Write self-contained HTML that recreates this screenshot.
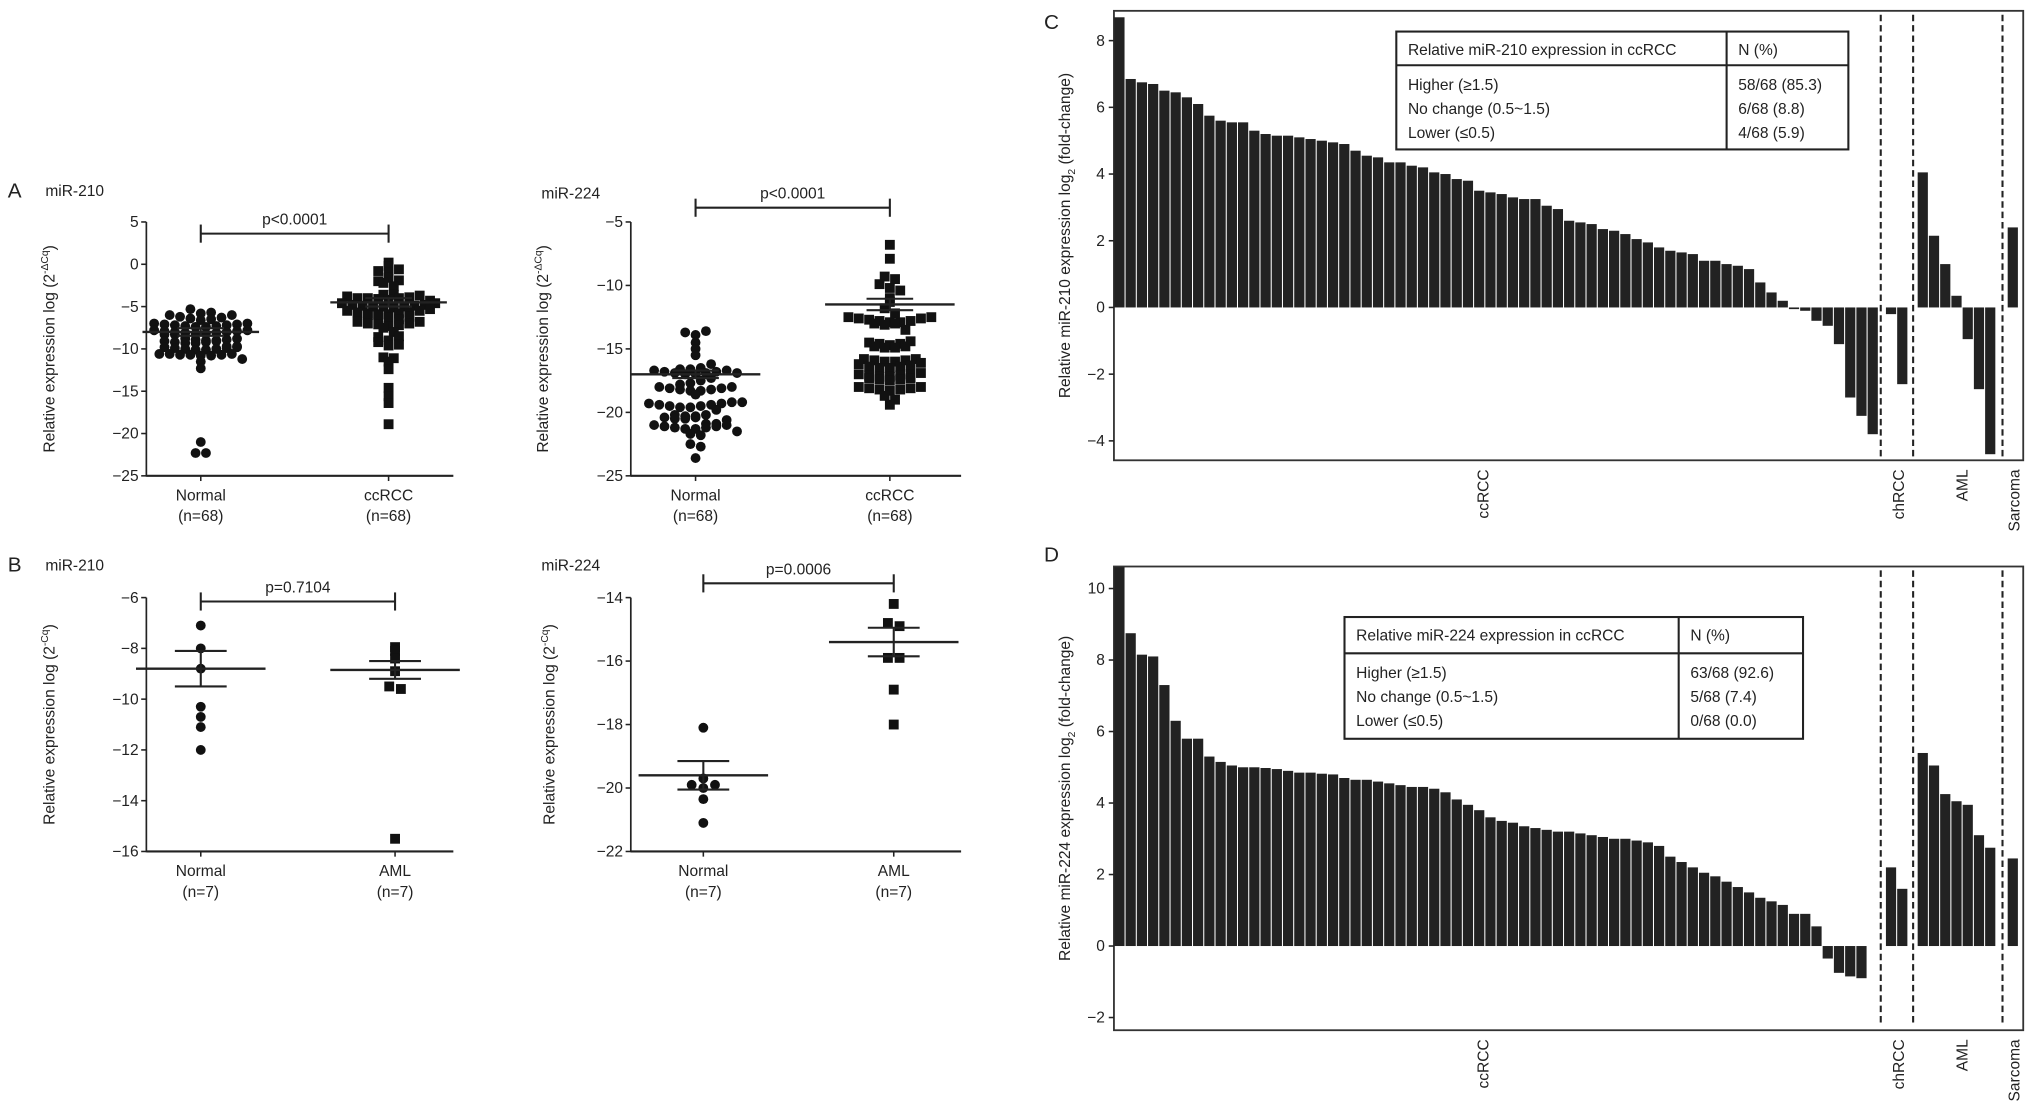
<!DOCTYPE html>
<html><head><meta charset="utf-8"><style>
html,body{margin:0;padding:0;background:#fff}
svg{display:block}
text{font-family:"Liberation Sans",Arial,sans-serif;fill:#222}
</style></head><body>
<svg id="fig" width="2031" height="1111" viewBox="0 0 1568 857" xmlns="http://www.w3.org/2000/svg">
<rect width="1568" height="857" fill="#fff"/>
<g id="root"></g>
</svg>
<script>
// ---------- DATA ----------
const aLeftNormal=[-5.3,-5.8,-6.0,-6.2,-6.4,-6.6,-6.5,-6.3,-6.0,-5.7,
-7.0,-7.1,-7.2,-7.3,-7.4,-7.4,-7.3,-7.2,-7.1,-7.0,
-7.8,-7.9,-8.0,-8.1,-8.2,-8.3,-8.3,-8.2,-8.1,-8.0,-7.9,-7.8,
-8.8,-8.9,-9.0,-9.1,-9.2,-9.3,-9.3,-9.2,-9.1,-9.0,-8.9,-8.8,
-9.7,-9.8,-9.9,-10.0,-10.1,-10.1,-10.0,-9.9,-9.8,-9.7,
-10.6,-10.6,-10.7,-10.7,-10.8,-10.8,-10.7,-10.6,
-11.5,-11.2,-12.3,-21.0,-22.3,-22.3];
const aLeftCcrcc=[-0.2,-0.8,0.2,-1.0,-0.6,-2.0,-2.2,-2.6,-1.6,-1.9,
-3.6,-3.8,-4.0,-4.0,-4.1,-4.2,-4.0,-3.9,-3.7,-3.6,
-4.6,-4.8,-4.9,-5.0,-5.0,-5.1,-5.0,-4.9,-4.8,-4.6,
-5.5,-5.7,-5.8,-5.9,-6.0,-6.0,-5.9,-5.8,-5.7,-5.5,-6.3,-6.5,
-6.8,-7.0,-7.1,-7.3,-7.2,-7.0,-6.8,-7.5,
-8.0,-8.6,-9.2,-9.6,-9.5,-9.0,-8.5,
-11.0,-11.5,-11.1,-12.4,-14.6,-15.6,-16.4,-18.9,-4.3,-5.3,-6.2];
const aRightNormal=[-13.7,-13.9,-13.6,-14.5,-15.0,-15.5,
-16.6,-16.7,-16.8,-16.9,-17.0,-17.0,-16.9,-16.8,-16.7,-16.6,-16.5,-16.9,
-18.0,-18.1,-18.2,-18.3,-18.3,-18.2,-18.1,-18.0,-17.8,-17.7,
-19.3,-19.4,-19.5,-19.6,-19.6,-19.5,-19.4,-19.3,-19.2,-19.2,
-20.2,-20.3,-20.4,-20.5,-20.5,-20.4,-20.3,-20.2,
-20.9,-21.0,-21.1,-21.2,-21.3,-21.3,-21.2,-21.1,-21.0,-20.9,
-21.7,-21.8,-22.5,-22.7,-23.6,-17.5,-16.2,-17.3,-18.6,-19.8,-20.6,-21.5];
const aRightCcrcc=[-6.8,-7.9,-9.3,-9.5,-9.9,-10.2,-10.4,-11.0,-11.3,-11.8,
-12.5,-12.6,-12.7,-12.8,-12.9,-13.0,-13.1,-13.0,-12.9,-12.8,-12.6,-12.5,
-14.5,-14.6,-14.7,-14.8,-14.9,-14.9,-14.8,-14.6,-14.4,
-15.8,-15.9,-16.0,-16.2,-16.4,-16.5,-16.5,-16.4,-16.3,-16.1,-16.0,-15.9,-15.8,
-17.0,-17.1,-17.2,-17.3,-17.4,-17.5,-17.4,-17.3,-17.2,-17.1,-17.0,-16.9,
-18.0,-18.1,-18.2,-18.3,-18.2,-18.1,-18.0,-18.7,-19.0,-19.4,-12.2,-13.5];
const bLeftNormal=[-7.1,-8.0,-8.8,-10.3,-10.7,-11.1,-12.0];
const bLeftAml=[-7.95,-8.1,-8.4,-8.9,-9.5,-9.6,-15.5];
const bRightNormal=[-18.1,-19.7,-19.9,-20.0,-19.9,-20.35,-21.1];
const bRightAml=[-14.2,-14.8,-14.9,-15.9,-15.9,-16.9,-18.0];
// reported mean and SEM per group
const aLeftMeans=[-8.0,-4.5], aLeftSems=[0.45,0.5];
const aRightMeans=[-17.0,-11.5], aRightSems=[0.3,0.45];
const bLeftMeans=[-8.8,-8.85], bLeftSems=[0.7,0.35];
const bRightMeans=[-19.6,-15.4], bRightSems=[0.45,0.45];

const cCcrcc=[8.7,6.85,6.75,6.7,6.5,6.45,6.3,6.1,5.75,5.6,5.55,5.55,5.3,5.2,5.15,5.15,5.1,5.05,5.0,
4.95,4.9,4.7,4.55,4.5,4.35,4.35,4.25,4.2,4.05,4.0,3.85,3.8,3.5,3.45,3.4,3.3,3.25,3.25,3.05,
2.95,2.6,2.55,2.5,2.35,2.3,2.2,2.05,1.95,1.8,1.7,1.65,1.6,1.4,1.4,1.3,1.25,1.15,0.75,0.45,
0.2,-0.05,-0.1,-0.4,-0.55,-1.1,-2.7,-3.25,-3.8];
const cChrcc=[-0.2,-2.3];
const cAml=[4.05,2.15,1.3,0.35,-0.95,-2.45,-4.4];
const cSarcoma=[2.4];
const dCcrcc=[10.6,8.75,8.15,8.1,7.3,6.3,5.8,5.8,5.3,5.15,5.05,5.0,5.0,4.98,4.95,4.9,4.85,4.85,4.82,
4.8,4.7,4.65,4.65,4.6,4.55,4.5,4.45,4.45,4.4,4.3,4.1,3.95,3.8,3.6,3.5,3.45,3.35,3.3,
3.25,3.2,3.2,3.15,3.1,3.05,3.0,3.0,2.95,2.9,2.8,2.5,2.35,2.2,2.05,1.95,1.8,1.65,1.5,1.35,
1.25,1.15,0.9,0.9,0.55,-0.35,-0.75,-0.85,-0.9];
const dChrcc=[2.2,1.6];
const dAml=[5.4,5.05,4.25,4.05,3.95,3.1,2.75];
const dSarcoma=[2.45];
const cTicks=[8,6,4,2,0,-2,-4];
const dTicks=[10,8,6,4,2,0,-2];

// ---------- HELPERS ----------
const NS='http://www.w3.org/2000/svg';
const root=document.getElementById('root');
function mk(tag,attrs,parent){const e=document.createElementNS(NS,tag);for(const k in attrs)e.setAttribute(k,attrs[k]);(parent||root).appendChild(e);return e;}
function txt(s,x,y,size,anchor,parent,rot){const t=mk('text',{x:x,y:y,'font-size':size,'text-anchor':anchor||'middle'},parent);if(rot)t.setAttribute('transform','rotate(-90 '+x+' '+y+')');t.textContent=s;return t;}
function line(x1,y1,x2,y2,w,parent,dash){const l=mk('line',{x1:x1,y1:y1,x2:x2,y2:y2,stroke:'#222','stroke-width':w||1.2},parent);if(dash)l.setAttribute('stroke-dasharray',dash);return l;}

function scatterPanel(o){
  const g=mk('g',{});
  
  
  const y=v=>o.y0+(o.vmax-v)/(o.vmax-o.vmin)*(o.y1-o.y0);
  line(o.ax,o.y0,o.ax,o.y1+0.6,1.3,g);
  line(o.ax,o.y1,o.ax2,o.y1,1.6,g);
  o.ticks.forEach(t=>{line(o.ax-4,y(t),o.ax,y(t),1.2,g);const tl=txt(String(t).replace('-','−'),o.ax-6,y(t)+4,12,'end',g);});
  o.cats.forEach((c,i)=>{line(o.cx[i],o.y1,o.cx[i],o.y1+4,1.2,g);const a=txt(c[0],o.cx[i],o.y1+19,12,'middle',g);txt(c[1],o.cx[i],o.y1+35,12,'middle',g);});
  const yt=mk('text',{x:o.ytx,y:(o.y0+o.y1)/2,'font-size':12,'text-anchor':'middle',transform:'rotate(-90 '+o.ytx+' '+((o.y0+o.y1)/2)+')'},g);
  
  yt.appendChild(document.createTextNode('Relative expression log (2'));
  const sp=mk('tspan',{'font-size':8,dy:-5},yt);sp.textContent=o.sup;
  const sp2=mk('tspan',{dy:5},yt);sp2.textContent=')';
  const ti=txt(o.title,o.tx,o.ty,12,'start',g);
  line(o.cx[0],o.by,o.cx[1],o.by,1.6,g);line(o.cx[0],o.by-7,o.cx[0],o.by+7,1.6,g);line(o.cx[1],o.by-7,o.cx[1],o.by+7,1.6,g);
  const pt=txt(o.p,(o.cx[0]+o.cx[1])/2,o.by-7,12,'middle',g);
  o.series.forEach((vals,si)=>{
    const cx=o.cx[si];
    const bins={};
    vals.forEach(v=>{const k=Math.round(y(v)/o.binpx);(bins[k]=bins[k]||[]).push(v);});
    Object.keys(bins).forEach(k=>{const arr=bins[k];const n=arr.length;
      arr.forEach((v,j)=>{const x=cx+(j-(n-1)/2)*o.dx;const yy=y(v);
        let m;
        if(si===0){m=mk('circle',{cx:x,cy:yy,r:o.r,fill:'#111'},g);}
        else{m=mk('rect',{x:x-o.r,y:yy-o.r,width:o.r*2,height:o.r*2,fill:'#111'},g);}
        
      });});
    const mean=o.means[si],sem=o.sems[si];
    const ml=line(cx-o.mw,y(mean),cx+o.mw,y(mean),1.8,g);
    line(cx-o.sw,y(mean+sem),cx+o.sw,y(mean+sem),1.6,g);line(cx-o.sw,y(mean-sem),cx+o.sw,y(mean-sem),1.6,g);
    line(cx,y(mean+sem),cx,y(mean-sem),1.6,g);
  });
}

scatterPanel({name:'panel-a-mir210',ax:113,ax2:350,y0:171,y1:367,vmax:5,vmin:-25,ticks:[5,0,-5,-10,-15,-20,-25],cx:[155,300],cats:[['Normal','(n=68)'],['ccRCC','(n=68)']],ytx:42,sup:'-ΔCq',title:'miR-210',tx:35,ty:151,by:180,p:'p<0.0001',series:[aLeftNormal,aLeftCcrcc],means:aLeftMeans,sems:aLeftSems,binpx:5,dx:8,r:3.8,mw:45,sw:18});
scatterPanel({name:'panel-a-mir224',ax:487,ax2:742,y0:171,y1:367,vmax:-5,vmin:-25,ticks:[-5,-10,-15,-20,-25],cx:[537,687],cats:[['Normal','(n=68)'],['ccRCC','(n=68)']],ytx:423,sup:'-ΔCq',title:'miR-224',tx:418,ty:153,by:160,p:'p<0.0001',series:[aRightNormal,aRightCcrcc],means:aRightMeans,sems:aRightSems,binpx:6,dx:8,r:3.8,mw:50,sw:18});
scatterPanel({name:'panel-b-mir210',ax:113,ax2:350,y0:461,y1:657,vmax:-6,vmin:-16,ticks:[-6,-8,-10,-12,-14,-16],cx:[155,305],cats:[['Normal','(n=7)'],['AML','(n=7)']],ytx:42,sup:'-Cq',title:'miR-210',tx:35,ty:440,by:464,p:'p=0.7104',series:[bLeftNormal,bLeftAml],means:bLeftMeans,sems:bLeftSems,binpx:7,dx:9,r:3.8,mw:50,sw:20});
scatterPanel({name:'panel-b-mir224',ax:487,ax2:742,y0:461,y1:657,vmax:-14,vmin:-22,ticks:[-14,-16,-18,-20,-22],cx:[543,690],cats:[['Normal','(n=7)'],['AML','(n=7)']],ytx:428,sup:'-Cq',title:'miR-224',tx:418,ty:440,by:450,p:'p=0.0006',series:[bRightNormal,bRightAml],means:bRightMeans,sems:bRightSems,binpx:7,dx:9,r:3.8,mw:50,sw:20});

txt('A',6,152,16,'start');
txt('B',6,441,16,'start');

function barPanel(o){
  const g=mk('g',{});
  
  
  const y=v=>o.yz-v*o.ppu;
  mk('rect',{x:o.x0,y:o.top,width:o.x1-o.x0,height:o.bot-o.top,fill:'none',stroke:'#333','stroke-width':1.4},g);
  o.ticks.forEach(t=>{line(o.x0-4,y(t),o.x0,y(t),1.2,g);const tl=txt(String(t).replace('-','−'),o.x0-7,y(t)+4,12,'end',g);});
  const slot=8.68;
  const groups=[[o.g[0],o.x0+0.3],[o.g[1],1456],[o.g[2],1480.5],[o.g[3],1550]];
  groups.forEach(([vals,start])=>{vals.forEach((v,i)=>{const x=start+i*slot;const b=mk('rect',{x:x,y:Math.min(y(v),o.yz),width:slot-0.8,height:Math.abs(y(v)-o.yz),fill:'#222'},g);
    });});
  [1452,1477,1546].forEach(x=>{const d=line(x,o.top+3,x,o.bot-3,1.6,g,'5,3');});
  [['ccRCC',1149],['chRCC',1470],['AML',1519],['Sarcoma',1559]].forEach(([s,x])=>{const t=txt(s,x,o.bot+7,12,'end',g,true);});
  const yt=mk('text',{x:o.ytx,y:(o.top+o.bot)/2,'font-size':12,'text-anchor':'middle',transform:'rotate(-90 '+o.ytx+' '+((o.top+o.bot)/2)+')'},g);
  
  yt.appendChild(document.createTextNode(o.yt+' expression log'));
  const s=mk('tspan',{'font-size':8,dy:4},yt);s.textContent='2';
  const s2=mk('tspan',{dy:-4},yt);s2.textContent=' (fold-change)';
  const T=o.tab;
  const tg=mk('g',{},g);
  mk('rect',{x:T.x,y:T.y,width:T.w,height:T.h,fill:'#fff',stroke:'#222','stroke-width':1.6},tg);
  line(T.x,T.hy,T.x+T.w,T.hy,1.6,tg);line(T.cx,T.y,T.cx,T.y+T.h,1.6,tg);
  txt(T.head,T.x+9,T.y+18,12,'start',tg);txt('N (%)',T.cx+9,T.y+18,12,'start',tg);
  T.rows.forEach((r,i)=>{txt(r[0],T.x+9,T.hy+19+i*18.5,12,'start',tg);txt(r[1],T.cx+9,T.hy+19+i*18.5,12,'start',tg);});
}
barPanel({name:'panel-c-mir210-bars',x0:860,x1:1562,top:8,bot:355,yz:237,ppu:25.75,ticks:cTicks,g:[cCcrcc,cChrcc,cAml,cSarcoma],ytx:826,yt:'Relative miR-210',
  tab:{x:1078,y:24,w:349,h:91,hy:50,cx:1333,head:'Relative miR-210 expression in ccRCC',rows:[['Higher (≥1.5)','58/68 (85.3)'],['No change (0.5~1.5)','6/68 (8.8)'],['Lower (≤0.5)','4/68 (5.9)']]}});
barPanel({name:'panel-d-mir224-bars',x0:860,x1:1562,top:437,bot:795,yz:730,ppu:27.6,ticks:dTicks,g:[dCcrcc,dChrcc,dAml,dSarcoma],ytx:826,yt:'Relative miR-224',
  tab:{x:1038,y:476,w:354,h:94,hy:504,cx:1296,head:'Relative miR-224 expression in ccRCC',rows:[['Higher (≥1.5)','63/68 (92.6)'],['No change (0.5~1.5)','5/68 (7.4)'],['Lower (≤0.5)','0/68 (0.0)']]}});
txt('C',806,22,16,'start');
txt('D',806,433,16,'start');
</script>
</body></html>
